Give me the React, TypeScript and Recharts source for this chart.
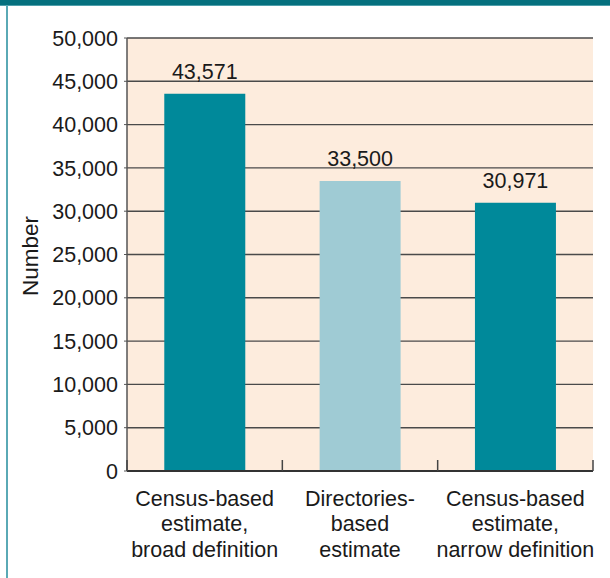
import { BarChart, Bar, XAxis, YAxis, CartesianGrid, Cell, LabelList } from 'recharts';

const categoryLines = [
  ['Census-based', 'estimate,', 'broad definition'],
  ['Directories-', 'based', 'estimate'],
  ['Census-based', 'estimate,', 'narrow definition'],
];
const values = [43571, 33500, 30971];
const barColors = ['#00899a', '#9fcbd4', '#00899a'];
const yTicks = [0, 5000, 10000, 15000, 20000, 25000, 30000, 35000, 40000, 45000, 50000];

const W = 610;
const H = 578;
const M = { top: 38, right: 17, bottom: 0, left: 0 };
const Y_AXIS_W = 127;
const X_AXIS_H = 107;
const FONT = "'Liberation Sans', Arial, sans-serif";
const FS = 21.5;

const data = values.map((v, i) => ({ key: String(i), value: v }));

const bandWidth = (W - M.left - M.right - Y_AXIS_W) / categoryLines.length;

// category label (three lines) plus the short upward ticks at the band edges
function CategoryTick(props: any) {
  const { x, y, index } = props;
  const lines = categoryLines[index] || [];
  return (
    <g>
      {index === 0 && (
        <line x1={x - bandWidth / 2} x2={x - bandWidth / 2} y1={y - 11} y2={y} stroke="#444" strokeWidth={1.5} />
      )}
      <line x1={x + bandWidth / 2} x2={x + bandWidth / 2} y1={y - 11} y2={y} stroke="#444" strokeWidth={1.5} />
      <text x={x} y={y} textAnchor="middle" fill="#1a1a1a" fontSize={FS} fontFamily={FONT}>
        {lines.map((t, i) => (
          <tspan key={i} x={x} dy={i === 0 ? 35 : 25.4}>
            {t}
          </tspan>
        ))}
      </text>
    </g>
  );
}

function NumberLabel() {
  return (
    <text
      x={38}
      y={256}
      transform="rotate(-90, 38, 256)"
      textAnchor="middle"
      fill="#1a1a1a"
      fontSize={22.5}
      fontFamily={FONT}
    >
      Number
    </text>
  );
}

export default function App() {
  return (
    <div style={{ position: 'absolute', left: 0, top: 0, width: W, height: H, background: '#fff' }}>
      <div style={{ position: 'absolute', left: 0, top: 0, width: W, height: 4.5, background: '#05707e', borderBottom: '1px solid #4f9fab' }} />
      <div style={{ position: 'absolute', left: 6, top: 5, width: 1.5, height: H - 5, background: '#5aa9b5' }} />
      <div style={{ position: 'absolute', left: 0, top: 0 }}>
        <BarChart width={W} height={H} data={data} margin={M} barCategoryGap="24%" style={{ fontFamily: FONT }}>
          <CartesianGrid vertical={false} fill="#fdecdd" fillOpacity={1} stroke="#4a4a4a" strokeWidth={1.4} />
          <XAxis
            dataKey="key"
            height={X_AXIS_H}
            interval={0}
            tickLine={false}
            tickSize={0}
            tickMargin={0}
            axisLine={{ stroke: '#333', strokeWidth: 2 }}
            tick={<CategoryTick />}
          />
          <YAxis
            width={Y_AXIS_W}
            domain={[0, 50000]}
            ticks={yTicks}
            interval={0}
            tickSize={3}
            tickMargin={6}
            tickLine={{ stroke: '#555' }}
            axisLine={{ stroke: '#555', strokeWidth: 1.5 }}
            tick={{ fill: '#1a1a1a', fontSize: FS, fontFamily: FONT }}
            tickFormatter={(v: number) => v.toLocaleString('en-US')}
            label={<NumberLabel />}
          />
          <Bar dataKey="value" isAnimationActive={false}>
            {values.map((_, i) => (
              <Cell key={i} fill={barColors[i]} />
            ))}
            <LabelList
              dataKey="value"
              position="top"
              offset={15}
              fill="#1a1a1a"
              fontSize={FS}
              fontFamily={FONT}
              formatter={(v: any) => Number(v).toLocaleString('en-US')}
            />
          </Bar>
        </BarChart>
      </div>
    </div>
  );
}
